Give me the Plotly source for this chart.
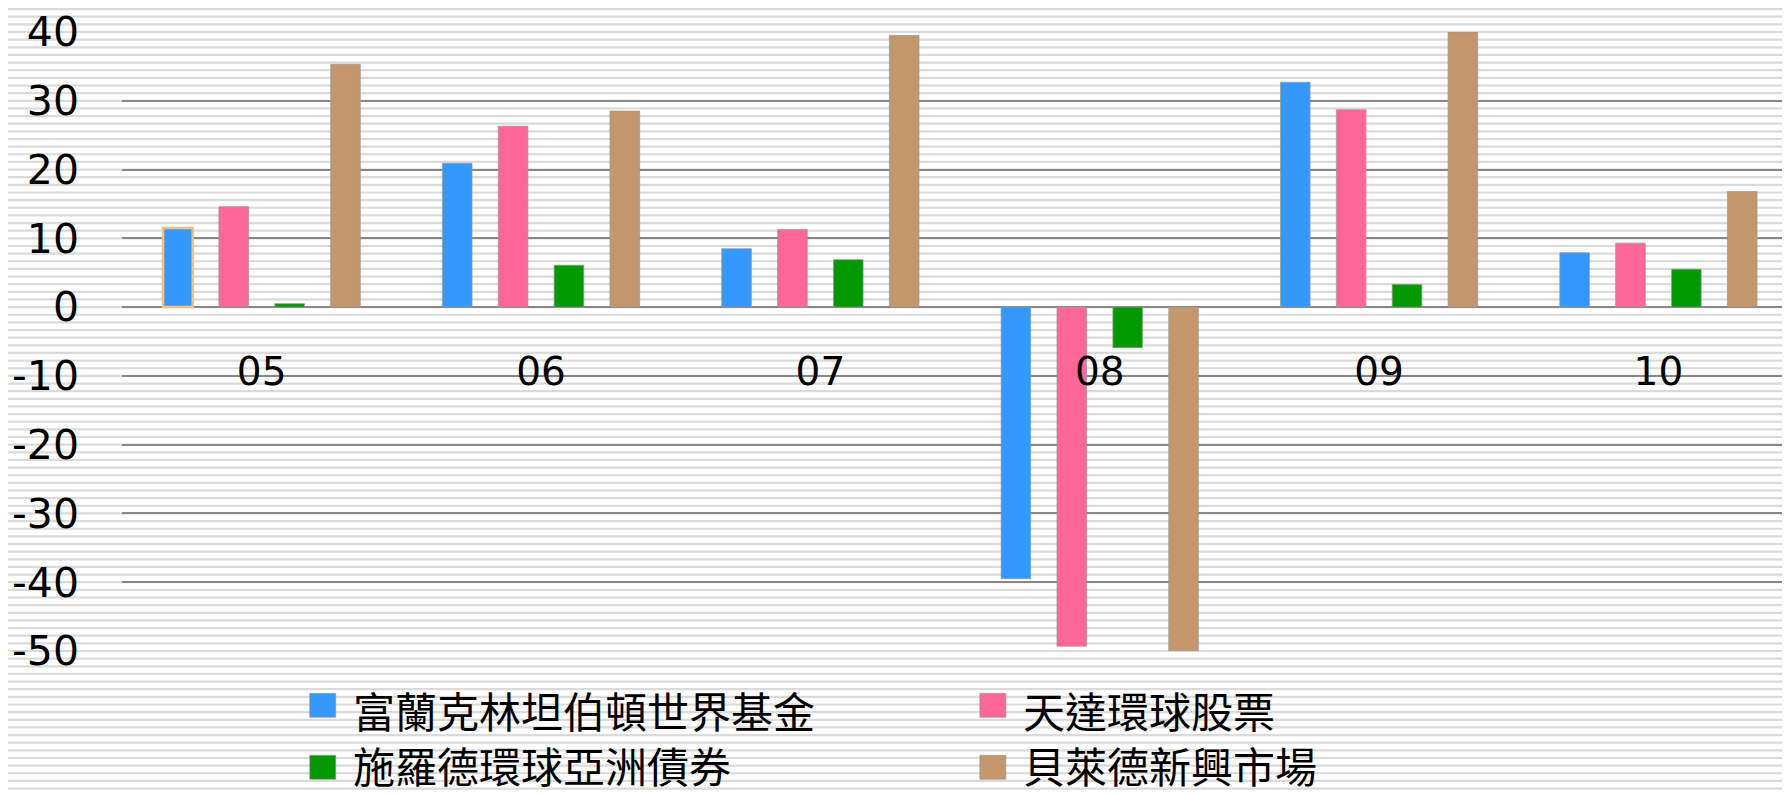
import plotly.graph_objects as go

# ---------------- data ----------------
years = ["05", "06", "07", "08", "09", "10"]
franklin = [11.5, 20.9, 8.5, -39.5, 32.7, 7.9]
investec = [14.6, 26.3, 11.3, -49.3, 28.7, 9.3]
schroder = [0.5, 6.1, 6.9, -5.9, 3.3, 5.5]
blackrock = [35.3, 28.5, 39.5, -50.2, 40.0, 16.8]
series_names = ["富蘭克林坦伯頓世界基金", "天達環球股票", "施羅德環球亞洲債券", "貝萊德新興市場"]
series_values = [franklin, investec, schroder, blackrock]
colors = ["#3399ff", "#ff6699", "#009900", "#c4966c"]
y_tick_values = [40, 30, 20, 10, 0, -10, -20, -30, -40, -50]
y_tick_text = [str(v) for v in y_tick_values]

# ---------------- geometry (page pixels; page body has an 8px margin) ----------------
OFF = 8
W, H = 1790, 795
PLOT_L, PLOT_T, PLOT_B = 122.3 - OFF, 31.7 - OFF, 650.7 - OFF
ML, MT, MB, MR = PLOT_L, PLOT_T, H - PLOT_B, OFF
Y_MIN, Y_MAX = -50, 40
PLOT_W = W - ML - MR
PLOT_H = PLOT_B - PLOT_T
CAT_PX = 279.3
X_RANGE = [-0.5, -0.5 + PLOT_W / CAT_PX]


def px_x(px):
    return (px - OFF - ML) / PLOT_W


def px_y(py):
    return (PLOT_B - (py - OFF)) / PLOT_H


fig = go.Figure()
for i, (name, vals, col) in enumerate(zip(series_names, series_values, colors)):
    line_cols = ["rgba(150,150,150,0.7)"] * len(vals)
    line_w = [1] * len(vals)
    if i == 0:
        line_cols[0] = "#f7be7c"
        line_w[0] = 2.5
    fig.add_trace(go.Bar(
        x=years, y=vals, name=name,
        marker=dict(color=col, line=dict(color=line_cols, width=line_w)),
        cliponaxis=False, showlegend=False,
    ))

shapes = []
# background horizontal stripe pattern (9 stripes per 10 units)
step = 10 / 9
k = -8
while True:
    v = Y_MAX - k * step
    py = (v - Y_MIN) / (Y_MAX - Y_MIN)
    if py < -0.3:
        break
    shapes.append(dict(type="line", xref="paper", yref="paper",
                       x0=-0.1, x1=1.05, y0=py, y1=py,
                       line=dict(color="#dadada", width=2.2), layer="below"))
    k += 1

annotations = []
# manual legend (2 x 2), page pixel positions: (square x, square centre y, text centre y)
legend_pos = [(310, 705, 709), (980, 705, 709), (310, 767, 764), (980, 767, 764)]
for name, col, (sx, sy, ty) in zip(series_names, colors, legend_pos):
    shapes.append(dict(type="rect", xref="paper", yref="paper",
                       x0=px_x(sx), x1=px_x(sx + 26), y0=px_y(sy - 12), y1=px_y(sy + 12),
                       fillcolor=col, line=dict(color="rgba(150,150,150,0.6)", width=1)))
    annotations.append(dict(xref="paper", yref="paper", x=px_x(sx + 41), y=px_y(ty),
                            xanchor="left", yanchor="middle", showarrow=False, text=name,
                            font=dict(family="Noto Sans CJK TC", size=42, color="#000000")))

fig.update_layout(
    width=W, height=H,
    margin=dict(l=ML, r=MR, t=MT, b=MB, pad=0, autoexpand=False),
    paper_bgcolor="white", plot_bgcolor="rgba(0,0,0,0)",
    barmode="group", bargap=0.2, bargroupgap=0.47,
    shapes=shapes, annotations=annotations,
    font=dict(family="DejaVu Sans", color="#000000"),
    xaxis=dict(type="category", range=X_RANGE, anchor="free", automargin=False,
               position=(0 - Y_MIN) / (Y_MAX - Y_MIN),
               showgrid=False, showline=False, zeroline=False, ticks="",
               tickfont=dict(family="DejaVu Sans", size=39, color="#000000"),
               ticklabelstandoff=38),
    yaxis=dict(range=[Y_MIN, Y_MAX], tickvals=y_tick_values, ticktext=y_tick_text,
               automargin=False,
               showgrid=True, gridcolor="#878787", gridwidth=1.6, zeroline=True,
               zerolinecolor="#878787", zerolinewidth=1.6, showline=False, ticks="",
               tickfont=dict(family="DejaVu Sans", size=41, color="#000000"),
               ticklabelstandoff=42),
)

fig.write_html("out.html")
